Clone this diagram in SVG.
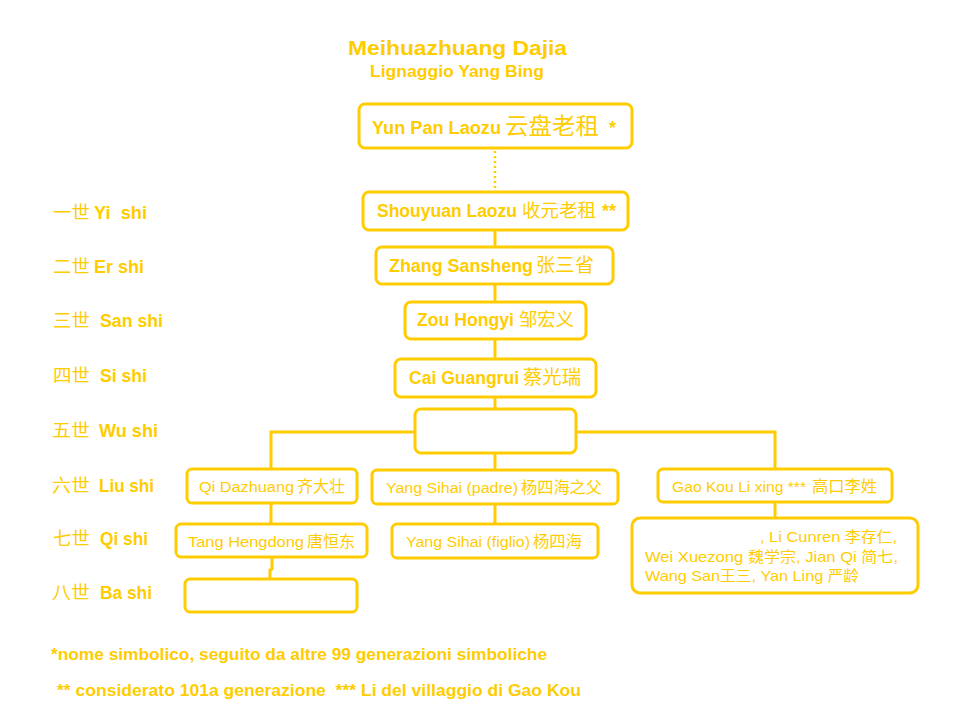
<svg xmlns="http://www.w3.org/2000/svg" width="960" height="720" viewBox="0 0 960 720">
<style>
.box{fill:none;stroke:#FFCC00;stroke-width:3}
.ln{fill:none;stroke:#FFCC00;stroke-width:3}
.dot{fill:none;stroke:#FFCC00;stroke-width:2.5;stroke-dasharray:2 3}
text{fill:#FFCC00;font-family:"Liberation Sans",Arial,sans-serif}
.b{font-weight:bold}
.bx{font-size:18px;font-weight:bold}
.rg{font-size:15.5px}
.sm{font-size:15px}
.lab{font-size:18px;font-weight:bold}
.cjk{font-family:"Noto Sans CJK SC","Noto Sans CJK TC",sans-serif;font-weight:normal}
</style>
<rect width="960" height="720" fill="#FFFFFF"/>
<g id="title">
<text class="b" x="348" y="55" font-size="21" textLength="219" lengthAdjust="spacingAndGlyphs">Meihuazhuang Dajia</text>
<text class="b" x="370" y="77" font-size="17" textLength="174" lengthAdjust="spacingAndGlyphs">Lignaggio Yang Bing</text>
</g>
<g id="connectors">
<line class="dot" x1="495" y1="151" x2="495" y2="190"/>
<line class="ln" x1="495" y1="230" x2="495" y2="247"/>
<line class="ln" x1="495" y1="284" x2="495" y2="302"/>
<line class="ln" x1="495" y1="339" x2="495" y2="359"/>
<line class="ln" x1="495" y1="397" x2="495" y2="409"/>
<line class="ln" x1="495" y1="453" x2="495" y2="470"/>
<line class="ln" x1="495" y1="504" x2="495" y2="524"/>
<polyline class="ln" points="271,469 271,432 415,432"/>
<polyline class="ln" points="576,432 775,432 775,469"/>
<line class="ln" x1="271" y1="503" x2="271" y2="524"/>
<polyline class="ln" points="272,557 272,569 270,570 270,579"/>
<line class="ln" x1="775" y1="502" x2="775" y2="518"/>
</g>
<g id="yunpan">
<rect class="box" x="359" y="104" width="273" height="44" rx="6"/>
<text class="bx" y="134"><tspan x="372" textLength="129" lengthAdjust="spacingAndGlyphs">Yun Pan Laozu</tspan><tspan class="cjk" x="505" font-size="23" textLength="94" lengthAdjust="spacingAndGlyphs">云盘老租</tspan><tspan x="609">*</tspan></text>
</g>
<g id="shouyuan">
<rect class="box" x="363" y="192" width="265" height="38" rx="6"/>
<text class="bx" y="217"><tspan x="377" textLength="140" lengthAdjust="spacingAndGlyphs">Shouyuan Laozu</tspan><tspan class="cjk" x="522" font-size="18" textLength="74" lengthAdjust="spacingAndGlyphs">收元老租</tspan><tspan x="602">**</tspan></text>
</g>
<g id="zhang">
<rect class="box" x="376" y="247" width="237" height="37" rx="6"/>
<text class="bx" y="272"><tspan x="389" textLength="144" lengthAdjust="spacingAndGlyphs">Zhang Sansheng</tspan><tspan class="cjk" x="536" font-size="19" textLength="58" lengthAdjust="spacingAndGlyphs">张三省</tspan></text>
</g>
<g id="zou">
<rect class="box" x="405" y="302" width="181" height="37" rx="6"/>
<text class="bx" y="326"><tspan x="417" textLength="97" lengthAdjust="spacingAndGlyphs">Zou Hongyi</tspan><tspan class="cjk" x="519" font-size="18" textLength="55" lengthAdjust="spacingAndGlyphs">邹宏义</tspan></text>
</g>
<g id="cai">
<rect class="box" x="395" y="359" width="201" height="38" rx="6"/>
<text class="bx" y="384"><tspan x="409" textLength="110" lengthAdjust="spacingAndGlyphs">Cai Guangrui</tspan><tspan class="cjk" x="523" font-size="19" textLength="58" lengthAdjust="spacingAndGlyphs">蔡光瑞</tspan></text>
</g>
<g id="wu">
<rect class="box" x="415" y="409" width="161" height="44" rx="6"/>
</g>
<g id="qidazhuang">
<rect class="box" x="187" y="469" width="170" height="34" rx="5"/>
<text class="rg" y="492"><tspan x="199" textLength="95" lengthAdjust="spacingAndGlyphs">Qi Dazhuang</tspan><tspan class="cjk" x="297" font-size="16" textLength="48" lengthAdjust="spacingAndGlyphs">齐大壮</tspan></text>
</g>
<g id="yangpadre">
<rect class="box" x="372" y="470" width="246" height="34" rx="5"/>
<text class="rg" y="493"><tspan x="386" textLength="132" lengthAdjust="spacingAndGlyphs">Yang Sihai (padre)</tspan><tspan class="cjk" x="521" font-size="16" textLength="81" lengthAdjust="spacingAndGlyphs">杨四海之父</tspan></text>
</g>
<g id="gaokou">
<rect class="box" x="658" y="469" width="234" height="33" rx="5"/>
<text class="rg" y="492"><tspan x="672" textLength="134" lengthAdjust="spacingAndGlyphs">Gao Kou Li xing ***</tspan><tspan class="cjk" x="812" font-size="16" textLength="65" lengthAdjust="spacingAndGlyphs">高口李姓</tspan></text>
</g>
<g id="tang">
<rect class="box" x="176" y="524" width="191" height="33" rx="5"/>
<text class="rg" y="547"><tspan x="188" textLength="116" lengthAdjust="spacingAndGlyphs">Tang Hengdong</tspan><tspan class="cjk" x="307" font-size="16" textLength="48" lengthAdjust="spacingAndGlyphs">唐恒东</tspan></text>
</g>
<g id="yangfiglio">
<rect class="box" x="392" y="524" width="206" height="34" rx="5"/>
<text class="rg" y="547"><tspan x="406" textLength="124" lengthAdjust="spacingAndGlyphs">Yang Sihai (figlio)</tspan><tspan class="cjk" x="533" font-size="16" textLength="49" lengthAdjust="spacingAndGlyphs">杨四海</tspan></text>
</g>
<g id="bashi">
<rect class="box" x="185" y="579" width="172" height="33" rx="5"/>
</g>
<g id="lifamily">
<rect class="box" x="632" y="518" width="286" height="75" rx="8"/>
<text class="sm" x="760" y="542" textLength="137" lengthAdjust="spacingAndGlyphs">, Li Cunren <tspan class="cjk" font-size="14.5">李存仁</tspan>,</text>
<text class="sm" x="645" y="562" textLength="253" lengthAdjust="spacingAndGlyphs">Wei Xuezong <tspan class="cjk" font-size="14.5">魏学宗</tspan>, Jian Qi <tspan class="cjk" font-size="14.5">简七</tspan>,</text>
<text class="sm" x="645" y="581" textLength="214" lengthAdjust="spacingAndGlyphs">Wang San<tspan class="cjk" font-size="14.5">王三</tspan>, Yan Ling <tspan class="cjk" font-size="14.5">严龄</tspan></text>
</g>
<g id="generations">
<text class="lab" y="219"><tspan class="cjk" x="53" textLength="37" lengthAdjust="spacingAndGlyphs">一世</tspan><tspan x="94" textLength="53" lengthAdjust="spacingAndGlyphs" xml:space="preserve">Yi  shi</tspan></text>
<text class="lab" y="273"><tspan class="cjk" x="53" textLength="37" lengthAdjust="spacingAndGlyphs">二世</tspan><tspan x="94" textLength="50" lengthAdjust="spacingAndGlyphs">Er shi</tspan></text>
<text class="lab" y="327"><tspan class="cjk" x="53" textLength="37" lengthAdjust="spacingAndGlyphs">三世</tspan><tspan x="100" textLength="63" lengthAdjust="spacingAndGlyphs">San shi</tspan></text>
<text class="lab" y="382"><tspan class="cjk" x="53" textLength="37" lengthAdjust="spacingAndGlyphs">四世</tspan><tspan x="100" textLength="47" lengthAdjust="spacingAndGlyphs">Si shi</tspan></text>
<text class="lab" y="437"><tspan class="cjk" x="52" textLength="38" lengthAdjust="spacingAndGlyphs">五世</tspan><tspan x="99" textLength="59" lengthAdjust="spacingAndGlyphs">Wu shi</tspan></text>
<text class="lab" y="492"><tspan class="cjk" x="52" textLength="38" lengthAdjust="spacingAndGlyphs">六世</tspan><tspan x="99" textLength="55" lengthAdjust="spacingAndGlyphs">Liu shi</tspan></text>
<text class="lab" y="545"><tspan class="cjk" x="53" textLength="37" lengthAdjust="spacingAndGlyphs">七世</tspan><tspan x="100" textLength="48" lengthAdjust="spacingAndGlyphs">Qi shi</tspan></text>
<text class="lab" y="599"><tspan class="cjk" x="52" textLength="38" lengthAdjust="spacingAndGlyphs">八世</tspan><tspan x="100" textLength="52" lengthAdjust="spacingAndGlyphs">Ba shi</tspan></text>
</g>
<g id="notes">
<text class="b" x="51" y="660" font-size="16" textLength="496" lengthAdjust="spacingAndGlyphs">*nome simbolico, seguito da altre 99 generazioni simboliche</text>
<text class="b" x="57" y="696" font-size="16" textLength="524" lengthAdjust="spacingAndGlyphs" xml:space="preserve">** considerato 101a generazione  *** Li del villaggio di Gao Kou</text>
</g>
</svg>
